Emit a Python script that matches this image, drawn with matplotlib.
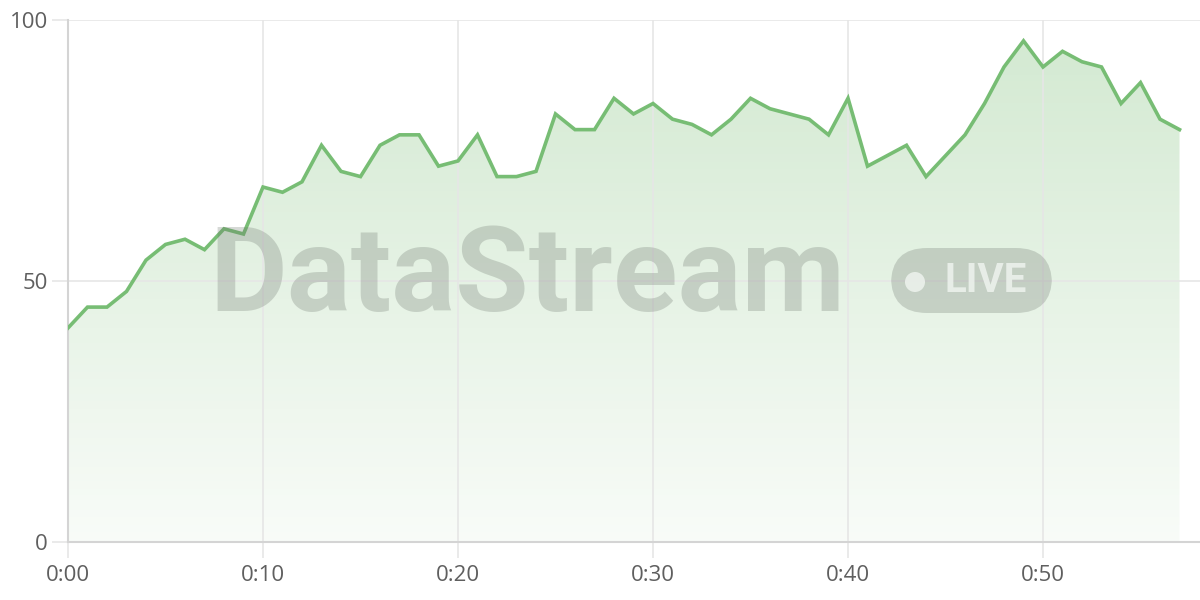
import numpy as np
import matplotlib.pyplot as plt
from matplotlib.patches import FancyBboxPatch, Ellipse
from matplotlib.colors import LinearSegmentedColormap

plt.rcParams['font.family'] = ['Open Sans', 'DejaVu Sans']

# minutes since start and the measured value
minutes = list(range(58))
values = [41, 45, 45, 48, 54, 57, 58, 56, 60, 59,
          68, 67, 69, 76, 71, 70, 76, 78, 78, 72,
          73, 78, 70, 70, 71, 82, 79, 79, 85, 82,
          84, 81, 80, 78, 81, 85, 83, 82, 81, 78,
          85, 72, 74, 76, 70, 74, 78, 84, 91, 96,
          91, 94, 92, 91, 84, 88, 81, 79]
x_ticks = [0, 10, 20, 30, 40, 50]
x_labels = ['0:00', '0:10', '0:20', '0:30', '0:40', '0:50']
y_ticks = [0, 50, 100]

line_color = '#77bd74'
grid_color = '#e6e6e6'
text_color = '#5f5f5f'

fig = plt.figure(figsize=(12, 6), dpi=100)
ax = fig.add_axes([68 / 1200, 58 / 600, 1132 / 1200, 522 / 600])
ax.set_xlim(0, 58.05)
ax.set_ylim(0, 100)

# gradient fill under the line
fill = ax.fill_between(minutes, values, 0, color='none')
grad = np.linspace(0, 1, 256).reshape(-1, 1)
cmap = LinearSegmentedColormap.from_list(
    'g', [(0.47, 0.74, 0.45, 0.05), (0.47, 0.74, 0.45, 0.32)])
img = ax.imshow(grad, cmap=cmap, aspect='auto', origin='lower',
                extent=[0, max(minutes), 0, max(values)], zorder=1)
img.set_clip_path(fill.get_paths()[0], transform=ax.transData)

ax.plot(minutes, values, color=line_color, lw=2.6, zorder=3,
        solid_joinstyle='miter')

ax.set_xticks(x_ticks)
ax.set_xticklabels(x_labels)
ax.set_yticks(y_ticks)
ax.grid(True, color=grid_color, lw=1.2, zorder=0)
ax.tick_params(axis='both', colors=grid_color, labelcolor=text_color,
               labelsize=16, length=11.5, width=1.2)
ax.tick_params(axis='x', pad=5)
ax.tick_params(axis='y', pad=3)
for s in ['top', 'right']:
    ax.spines[s].set_visible(False)
ax.spines['left'].set_color('#d4d4d4')
ax.spines['bottom'].set_color('#d4d4d4')
ax.spines['left'].set_linewidth(1.5)
ax.spines['bottom'].set_linewidth(1.5)

# watermark
wm = (0.42, 0.45, 0.42, 0.27)
fig.text(527 / 1200, 1 - 278 / 600, 'DataStream', fontsize=86,
         fontweight='bold', color=wm, ha='center', va='center',
         family=['Roboto', 'DejaVu Sans'], zorder=5)
badge = FancyBboxPatch((891 / 1200, 1 - 313 / 600), 161 / 1200, 65 / 600,
                       boxstyle='round,pad=0,rounding_size=0.03',
                       transform=fig.transFigure, facecolor=wm,
                       edgecolor='none', zorder=5,
                       mutation_aspect=2)
fig.patches.append(badge)
fig.patches.append(Ellipse((915 / 1200, 1 - 282 / 600), 20 / 1200, 20 / 600,
                           transform=fig.transFigure, facecolor='#eef3ee',
                           alpha=0.85, edgecolor='none', zorder=6))
fig.text(986 / 1200, 1 - 281 / 600, 'LIVE', fontsize=29, fontweight='bold',
         color='#eef3ee', alpha=0.85, ha='center', va='center',
         family=['Roboto', 'DejaVu Sans'], zorder=6)

fig.savefig('out.png', dpi=100)
